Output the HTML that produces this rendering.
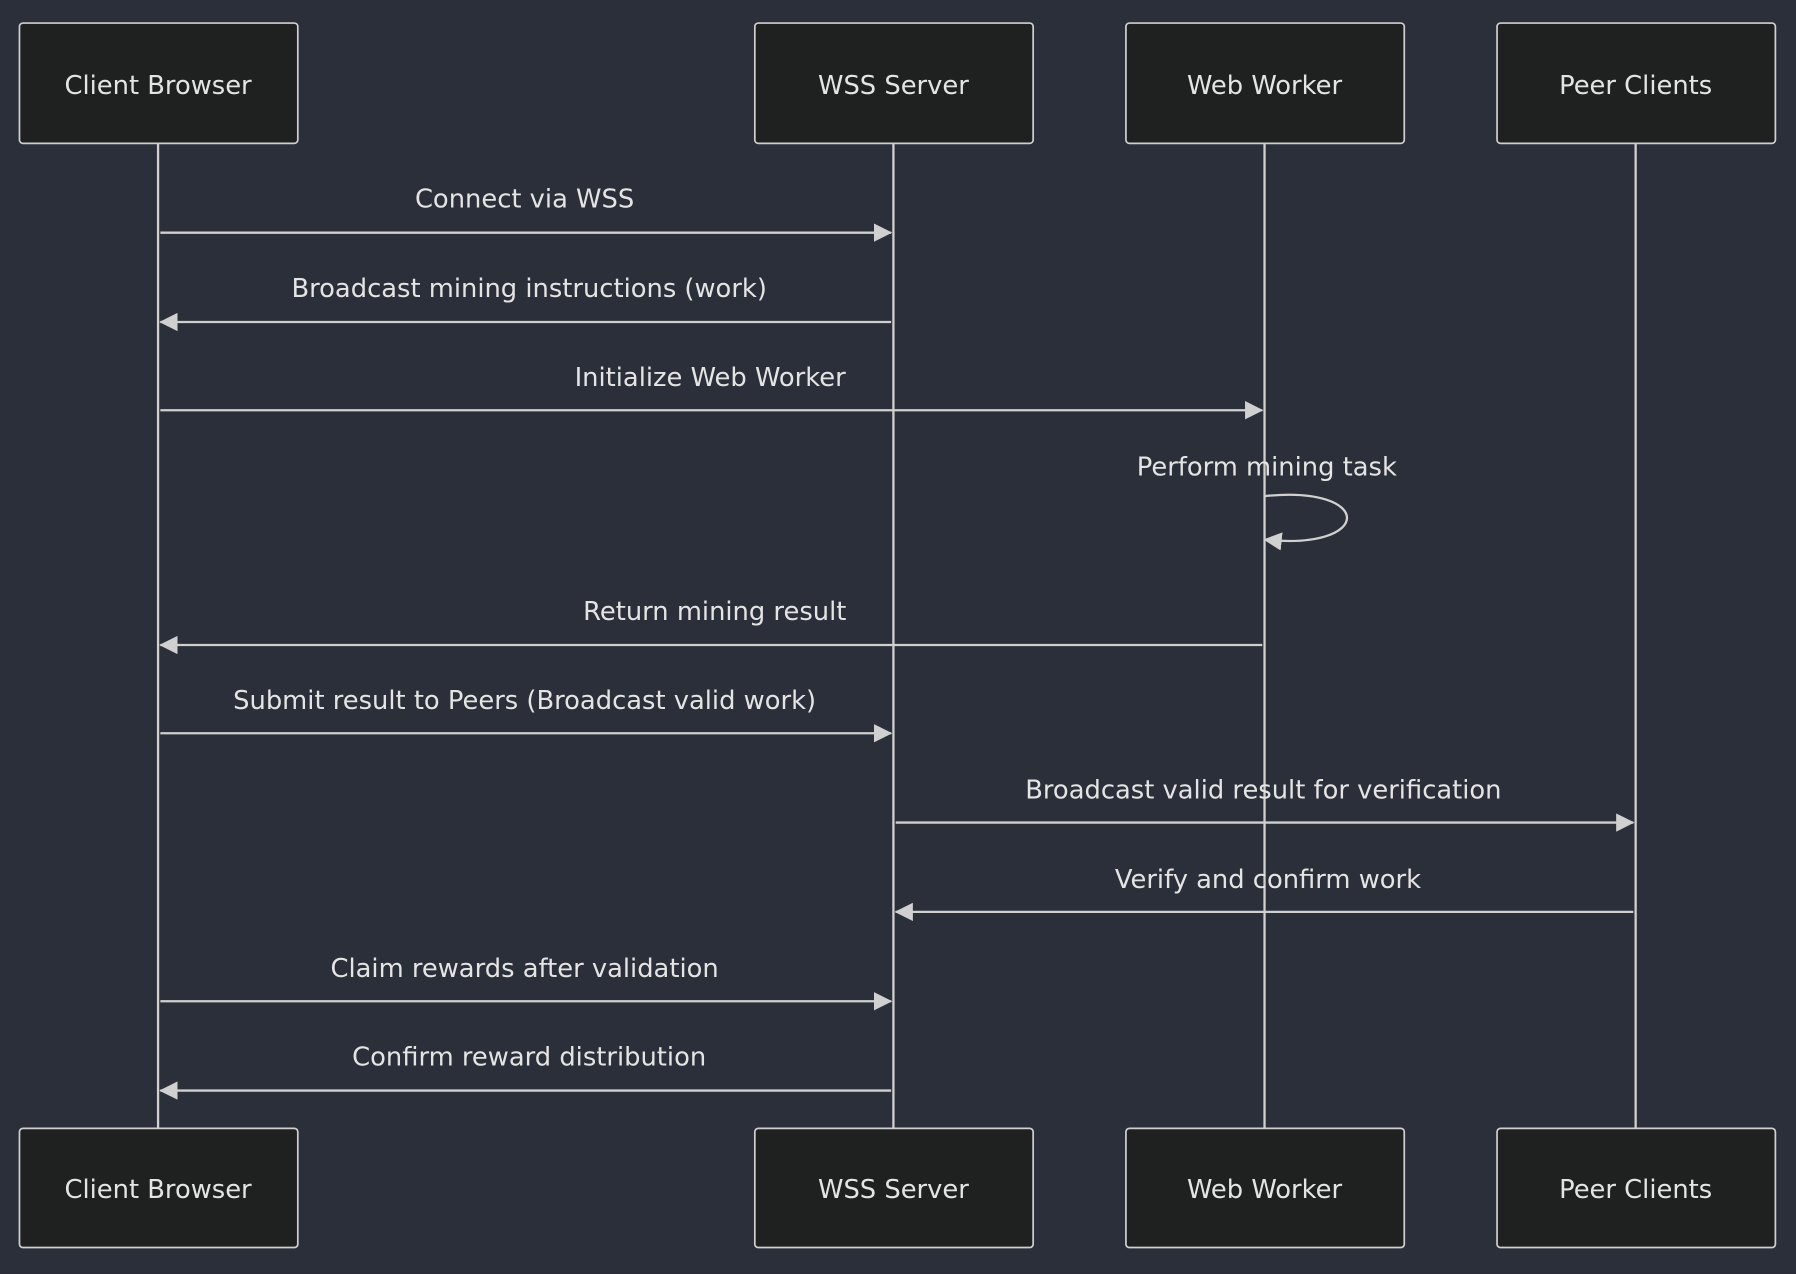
<!DOCTYPE html>
<html><head><meta charset="utf-8"><style>
html,body{margin:0;padding:0;background:#2b2f3a;}
svg{display:block}
text{font-family:"DejaVu Sans","Liberation Sans",sans-serif;fill:#e4e4e4;font-size:22.5px;text-anchor:middle}
</style></head><body>
<svg width="1796" height="1274" viewBox="0 0 1568 1112" xmlns="http://www.w3.org/2000/svg">
<defs>
<marker id="a" viewBox="0 0 16 16" refX="15" refY="8" markerWidth="16" markerHeight="16" markerUnits="userSpaceOnUse" orient="auto">
<path d="M0,0 L16,8 L0,16 z" fill="#d0d0d0"/></marker>
</defs>
<rect width="1568" height="1112" fill="#2b2f3a"/>
<g stroke="#d0d0d0" stroke-width="2">
<line x1="138" y1="125" x2="138" y2="985"/>
<line x1="780" y1="125" x2="780" y2="985"/>
<line x1="1104" y1="125" x2="1104" y2="985"/>
<line x1="1428" y1="125" x2="1428" y2="985"/>
</g>
<g fill="#1f2020" stroke="#cfcfcf" stroke-width="1.5">
<rect x="17" y="20" width="243" height="105" rx="3"/>
<rect x="659" y="20" width="243" height="105" rx="3"/>
<rect x="983" y="20" width="243" height="105" rx="3"/>
<rect x="1307" y="20" width="243" height="105" rx="3"/>
<rect x="17" y="985" width="243" height="104" rx="3"/>
<rect x="659" y="985" width="243" height="104" rx="3"/>
<rect x="983" y="985" width="243" height="104" rx="3"/>
<rect x="1307" y="985" width="243" height="104" rx="3"/>
</g>
<text x="138" y="82">Client Browser</text>
<text x="780" y="82">WSS Server</text>
<text x="1104" y="82">Web Worker</text>
<text x="1428" y="82">Peer Clients</text>
<text x="138" y="1046">Client Browser</text>
<text x="780" y="1046">WSS Server</text>
<text x="1104" y="1046">Web Worker</text>
<text x="1428" y="1046">Peer Clients</text>
<g stroke="#d0d0d0" stroke-width="2" fill="none" marker-end="url(#a)">
<line x1="140" y1="203" x2="778" y2="203"/>
<line x1="778" y1="281" x2="140" y2="281"/>
<line x1="140" y1="358" x2="1102" y2="358"/>
<path d="M1104,433 C1200,423 1200,481 1104,471"/>
<line x1="1102" y1="563" x2="140" y2="563"/>
<line x1="140" y1="640" x2="778" y2="640"/>
<line x1="782" y1="718" x2="1426" y2="718"/>
<line x1="1426" y1="796" x2="782" y2="796"/>
<line x1="140" y1="874" x2="778" y2="874"/>
<line x1="778" y1="952" x2="140" y2="952"/>
</g>
<text x="458" y="181">Connect via WSS</text>
<text x="462" y="259">Broadcast mining instructions (work)</text>
<text x="620" y="337">Initialize Web Worker</text>
<text x="1106" y="415">Perform mining task</text>
<text x="624" y="541">Return mining result</text>
<text x="458" y="619">Submit result to Peers (Broadcast valid work)</text>
<text x="1103" y="697">Broadcast valid result for verification</text>
<text x="1107" y="775">Verify and confirm work</text>
<text x="458" y="853">Claim rewards after validation</text>
<text x="462" y="930">Confirm reward distribution</text>
</svg>
</body></html>
